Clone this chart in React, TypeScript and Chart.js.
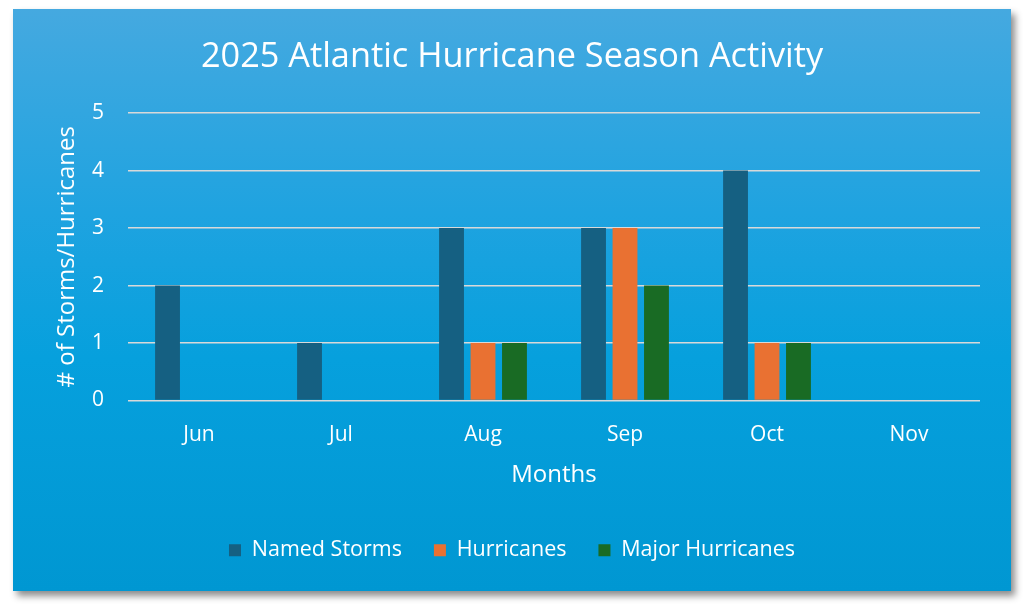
import React, { useEffect, useRef } from "react";
import { Chart, registerables } from "chart.js";

Chart.register(...registerables);

const months = ["Jun", "Jul", "Aug", "Sep", "Oct", "Nov"];
const namedStorms = [2, 1, 3, 3, 4, 0];
const hurricanes = [0, 0, 1, 3, 1, 0];
const majorHurricanes = [0, 0, 1, 2, 1, 0];
const yTicks = [0, 1, 2, 3, 4, 5];

const FONT = "'Open Sans', sans-serif";

export default function App() {
  const ref = useRef<HTMLCanvasElement | null>(null);

  useEffect(() => {
    if (!ref.current) return;
    const chart = new Chart(ref.current, {
      type: "bar",
      data: {
        labels: months,
        datasets: [
          { label: "Named Storms", data: namedStorms, backgroundColor: "#156082" },
          { label: "Hurricanes", data: hurricanes, backgroundColor: "#E97132" },
          { label: "Major Hurricanes", data: majorHurricanes, backgroundColor: "#196B24" },
        ],
      },
      options: {
        animation: false,
        responsive: false,
        maintainAspectRatio: false,
        layout: { padding: { left: 31, right: 31, top: 0, bottom: 20 } },
        datasets: { bar: { categoryPercentage: 0.665, barPercentage: 0.79 } },
        plugins: {
          title: {
            display: true,
            text: "2025 Atlantic Hurricane Season Activity",
            color: "#FFFFFF",
            font: { family: FONT, size: 34.3, weight: "normal" },
            padding: { top: 28, bottom: 34.9 },
          },
          legend: {
            position: "bottom",
            maxHeight: 70,
            labels: {
              color: "#FFFFFF",
              font: { family: FONT, size: 21.5 },
              boxWidth: 12,
              boxHeight: 12,
              padding: 32,
            },
          },
          tooltip: { enabled: false },
        },
        scales: {
          x: {
            grid: { display: false },
            border: { display: false },
            ticks: { color: "#FFFFFF", font: { family: FONT, size: 21 }, padding: 14 },
            title: {
              display: true,
              text: "Months",
              color: "#FFFFFF",
              font: { family: FONT, size: 24 },
              padding: { top: 0, bottom: 18 },
            },
            afterFit: (s: any) => {
              s.height = 107;
            },
          },
          y: {
            min: 0,
            max: 5,
            afterBuildTicks: (s: any) => {
              s.ticks = yTicks.map((v) => ({ value: v }));
            },
            grid: { color: "#D9D9D9", lineWidth: 1.5, drawTicks: false },
            border: { display: false },
            ticks: { color: "#FFFFFF", font: { family: FONT, size: 21 }, padding: 24 },
            title: {
              display: true,
              text: "# of Storms/Hurricanes",
              color: "#FFFFFF",
              font: { family: FONT, size: 24 },
              padding: { top: 9, bottom: 0 },
            },
            afterFit: (s: any) => {
              s.width = 84;
            },
          },
        },
      },
    });
    return () => chart.destroy();
  }, []);

  return (
    <div
      style={{
        position: "fixed",
        left: 0,
        top: 0,
        width: 1024,
        height: 608,
        background: "#FFFFFF",
      }}
    >
      <div
        style={{
          position: "absolute",
          left: 13,
          top: 9,
          width: 998,
          height: 582,
          background: "linear-gradient(to bottom, #45A9E0 0%, #1FA3E0 35%, #06A0DD 60%, #0097D2 100%)",
          boxShadow: "4px 5px 7px rgba(0,0,0,0.45)",
        }}
      >
        <canvas ref={ref} width={998} height={582} style={{ display: "block" }} />
      </div>
    </div>
  );
}
